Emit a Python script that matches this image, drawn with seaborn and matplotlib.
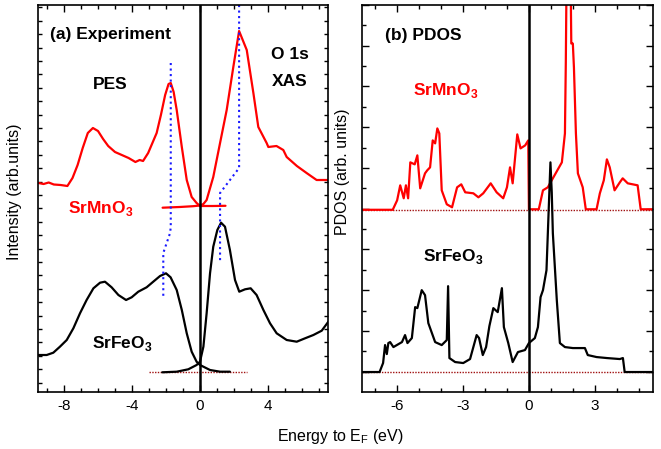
import numpy as np
import pandas as pd
import matplotlib
matplotlib.use("Agg")
import matplotlib.pyplot as plt
import seaborn as sns

sns.set_style("ticks")
plt.rcParams['font.family'] = ['Liberation Sans', 'DejaVu Sans']
plt.rcParams['mathtext.fontset'] = 'custom'
plt.rcParams['mathtext.rm'] = 'Liberation Sans'
plt.rcParams['mathtext.bf'] = 'Liberation Sans:bold'
plt.rcParams['axes.unicode_minus'] = False
for key in ('text.color', 'axes.labelcolor', 'xtick.color', 'ytick.color', 'axes.edgecolor'):
    plt.rcParams[key] = 'black'

# ---------------- Panel (a) Experiment ----------------
mn_pes_E = [-9.5, -9.2, -8.9, -8.6, -8.2, -7.8, -7.5, -7.2, -6.9, -6.6, -6.3, -6.0, -5.7, -5.4,
            -5.0, -4.6, -4.2, -3.8, -3.55, -3.35, -3.05, -2.8, -2.55, -2.3, -2.05, -1.85, -1.72,
            -1.55, -1.37, -1.07, -0.78, -0.49, -0.2, 0.0, 0.75, 1.5]
mn_pes_h = [209, 208, 209.5, 207.5, 207, 206, 214, 227, 244, 259, 264, 261, 253, 246,
            240, 237, 234, 230, 232, 231, 239, 249, 259, 277, 297, 308, 309,
            300, 282, 245, 212, 195, 189, 186, 186, 186.2]

mn_xas_E = [-2.2, -1.2, -0.4, 0.0, 0.2, 0.39, 0.78, 1.18, 1.57, 1.96, 2.3, 2.75, 3.14, 3.43,
            3.92, 4.02, 4.5, 4.9, 5.1, 5.7, 6.27, 6.86, 7.55]
mn_xas_h = [184.3, 185, 185.8, 186.5, 188, 192, 215, 249, 282, 325, 361, 342, 299, 265,
            249, 245, 246, 242, 235, 226, 219, 212, 212]

fe_pes_E = [-9.51, -9.02, -8.63, -8.24, -7.84, -7.45, -7.06, -6.67, -6.27, -5.88, -5.59, -5.2,
            -4.8, -4.35, -4.02, -3.63, -3.14, -2.75, -2.35, -2.0, -1.73, -1.37, -1.07, -0.78,
            -0.49, -0.2, 0.0, 0.59, 1.18, 1.76]
fe_pes_h = [37, 37, 39.3, 45.3, 52, 63.7, 78.7, 92, 103.7, 109.3, 110.3, 104.7,
            97, 92, 94.7, 100.3, 104.7, 110.3, 116, 118.7, 114.7, 102, 82, 58.7,
            40.3, 30.3, 27, 22, 20.3, 20.3]

fe_xas_E = [-2.22, -1.37, -0.69, -0.2, 0.0, 0.2, 0.39, 0.59, 0.78, 1.02, 1.24, 1.47, 1.76,
            2.06, 2.31, 2.65, 2.98, 3.33, 3.73, 4.12, 4.51, 5.1, 5.69, 6.18, 6.67, 7.16, 7.55]
fe_xas_h = [19.7, 20.3, 22.7, 27, 30.3, 45.3, 78.7, 118.7, 145.3, 162, 169.3, 165.3, 142,
            112, 100.3, 102.7, 103.7, 97, 82, 68.7, 58.7, 52, 50.3, 53.7, 57, 61.3, 70.3]

pes_guide_E = [-1.72, -1.72, -1.76, -2.16, -2.16]
pes_guide_h = [329, 165, 159, 139, 95]
xas_guide_E = [2.3, 2.3, 1.18, 1.18]
xas_guide_h = [387, 224, 199, 129]

# ---------------- Panel (b) PDOS ----------------
mn_dos_E = [-7.6, -6.2, -6.0, -5.86, -5.7, -5.6, -5.5, -5.4, -5.2, -5.08, -4.95, -4.73, -4.63,
            -4.5, -4.38, -4.27, -4.17, -4.08, -3.97, -3.74, -3.5, -3.27, -3.08, -2.9, -2.53,
            -2.3, -2.08, -1.74, -1.47, -1.17, -1.0, -0.86, -0.74, -0.53, -0.38, -0.17, -0.03,
            0.0, 0.45, 0.64, 0.86, 1.09, 1.32, 1.5, 1.64, 1.68, 1.72, 1.89, 1.93, 2.0, 2.05,
            2.14, 2.23, 2.45, 2.59, 3.08, 3.23, 3.41, 3.55, 3.68, 3.9, 4.14, 4.27, 4.5, 4.95,
            5.09, 5.65]
mn_dos_h = [182.5, 182.5, 192, 207, 194, 207, 194, 230, 228, 237, 204, 219, 222,
            225, 252, 249, 264, 259, 202, 188, 185, 205, 208, 200, 199,
            195, 199, 209, 200, 194, 205, 225, 209, 258, 244, 247, 252,
            183, 183, 202, 205, 214, 223, 230, 259, 330, 430, 430, 349, 349, 325,
            259, 219, 205, 183, 183, 199, 212, 233, 225, 202, 210, 214, 209, 207,
            183, 183]

fe_dos_E = [-7.6, -6.8, -6.64, -6.55, -6.47, -6.4, -6.32, -6.17, -5.78, -5.64, -5.53, -5.33,
            -5.18, -5.08, -4.88, -4.73, -4.58, -4.27, -3.97, -3.74, -3.68, -3.62, -3.36, -2.99,
            -2.68, -2.38, -2.27, -2.1, -1.95, -1.8, -1.62, -1.42, -1.23, -1.14, -0.94, -0.74,
            -0.5, -0.18, 0.0, 0.27, 0.41, 0.53, 0.64, 0.8, 0.93, 0.98, 1.04, 1.09, 1.27, 1.41,
            1.64, 2.0, 2.55, 2.68, 3.08, 3.55, 4.14, 4.28, 4.36, 5.65]
fe_dos_h = [20, 20, 29, 47, 38, 49, 50, 45, 50, 57, 49, 54,
            85, 84, 102, 97, 69, 50, 47, 52, 106, 34, 30, 29,
            33, 57, 54, 37, 45, 66, 84, 80, 104, 65, 49, 30,
            40, 42, 49, 54, 65, 95, 102, 122, 200, 230, 200, 159, 92, 49,
            45, 44, 44, 37, 35, 34, 33, 34, 20, 20]

red = "#ff0000"
brown = "#a01010"

fig = plt.figure(figsize=(6.61, 4.49), dpi=100)
ax1 = fig.add_axes([38/661, 57/449, 290/661, 387/449])
ax2 = fig.add_axes([362/661, 57/449, 291/661, 387/449])


def curve(ax, E, h, color, lw=1.6, ls="-"):
    df = pd.DataFrame({"E": E, "h": h})
    sns.lineplot(data=df, x="E", y="h", ax=ax, color=color, lw=lw, ls=ls,
                 sort=False, estimator=None)


# panel a
ax1.plot([-3.0, 2.75], [19.7, 19.7], color=brown, lw=1.0, ls=(0, (1, 1)))
curve(ax1, mn_pes_E, mn_pes_h, red)
curve(ax1, mn_xas_E, mn_xas_h, red)
curve(ax1, fe_pes_E, fe_pes_h, "black")
curve(ax1, fe_xas_E, fe_xas_h, "black")
curve(ax1, pes_guide_E, pes_guide_h, "#1a1aff", lw=1.5, ls=":")
curve(ax1, xas_guide_E, xas_guide_h, "#1a1aff", lw=1.5, ls=":")
ax1.axvline(0, color="black", lw=1.8)

# panel b
for base in (182.5, 20):
    ax2.axhline(base, color=brown, lw=1.0, ls=(0, (1, 1)))
curve(ax2, mn_dos_E, mn_dos_h, red)
curve(ax2, fe_dos_E, fe_dos_h, "black")
ax2.axvline(0, color="black", lw=1.8)

# axes styling
ax1.set_xlim(-9.53, 7.53)
ax2.set_xlim(-7.6, 5.65)
for ax in (ax1, ax2):
    ax.set_ylim(0, 387)
    ax.set_xlabel("")
    ax.set_ylabel("")
    for s in ax.spines.values():
        s.set_linewidth(1.2)
        s.set_visible(True)
        s.set_color("black")
    ax.tick_params(which="both", direction="in", top=True, right=True,
                   labelleft=False, width=1.0, labelsize=11, pad=5, colors="black")
    ax.tick_params(which="major", length=5)
    ax.tick_params(which="minor", length=3)

ax1.set_xticks([-8, -4, 0, 4])
ax1.set_xticklabels(["-8", "-4", "0", "4"])
ax1.set_xticks(np.arange(-9, 8, 1), minor=True)
ax1.set_yticks([])
ax1.set_yticks(9.5 + 13.4 * np.arange(0, 29), minor=True)

ax2.set_xticks([-6, -3, 0, 3])
ax2.set_xticklabels(["-6", "-3", "0", "3"])
ax2.set_xticks(np.arange(-7, 6, 1), minor=True)
ax2.set_yticks(20.4 * (2 * np.arange(0, 10) + 1))
ax2.set_yticks(20.4 * (2 * np.arange(1, 10)), minor=True)
ax2.tick_params(which="major", axis="y", length=5)

# texts
bold = dict(fontweight="bold", fontsize=12.5)
ax1.text(-8.8, 353, "(a) Experiment", color="black", **bold)
ax1.text(-5.3, 303, "PES", ha="center", color="black", **bold)
ax1.text(5.3, 333, "O 1s", ha="center", color="black", **bold)
ax1.text(5.3, 306, "XAS", ha="center", color="black", **bold)
ax1.text(-7.76, 179, r"SrMnO$_\mathbf{3}$", color=red, **bold)
ax1.text(-6.35, 44, r"SrFeO$_\mathbf{3}$", color="black", **bold)

ax2.text(-6.55, 353, "(b) PDOS", color="black", **bold)
ax2.text(-5.27, 297, r"SrMnO$_\mathbf{3}$", color=red, **bold)
ax2.text(-4.8, 131, r"SrFeO$_\mathbf{3}$", color="black", **bold)

fig.text(340/661, 1 - 437/449, r"Energy to E$_\mathrm{F}$ (eV)", ha="center", va="center",
         fontsize=11.5, color="black")
fig.text(15/661, 1 - 192/449, "Intensity (arb.units)", rotation=90, ha="center",
         va="center", fontsize=11.5, color="black")
fig.text(343/661, 1 - 172/449, "PDOS (arb. units)", rotation=90, ha="center",
         va="center", fontsize=11.5, color="black")

fig.savefig("out.png", dpi=100)
